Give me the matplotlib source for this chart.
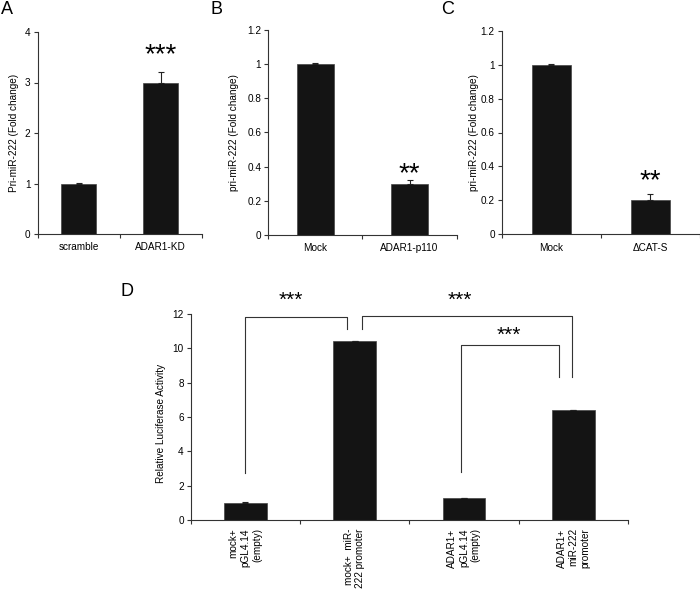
import numpy as np
import matplotlib
matplotlib.use("Agg")
import matplotlib.pyplot as plt

plt.rcParams['font.family'] = ['Liberation Sans', 'DejaVu Sans']

# ---- data ----
a_labels = ['scramble', 'ADAR1-KD']
a_values = [1.0, 3.0]
a_errors = [0.01, 0.2]

b_labels = ['Mock', 'ADAR1-p110']
b_values = [1.0, 0.30]
b_errors = [0.004, 0.02]

c_labels = ['Mock', '\u0394CAT-S']
c_values = [1.0, 0.20]
c_errors = [0.004, 0.04]

d_labels = ['mock+\npGL4.14\n(empty)', 'mock+  miR-\n222 promoter',
            'ADAR1+\npGL4.14\n(empty)', 'ADAR1+\nmiR-222\npromoter']
d_values = [0.98, 10.4, 1.26, 6.38]
d_errors = [0.04, 0.05, 0.04, 0.02]

BAR = '#141414'
FS = 7.2

fig = plt.figure(figsize=(7.0, 5.93), dpi=100)


def style_axes(ax, n):
    for s in ['top', 'right']:
        ax.spines[s].set_visible(False)
    for s in ['left', 'bottom']:
        ax.spines[s].set_linewidth(0.8)
        ax.spines[s].set_color('#333333')
    ax.set_xlim(-0.5, n - 0.5)
    # tick marks between categories, labels at category centres
    ax.set_xticks(np.arange(n + 1) - 0.5)
    ax.set_xticklabels([])
    ax.tick_params(axis='x', which='major', direction='out', length=3,
                   width=0.8, color='#333333')
    ax.tick_params(axis='y', direction='out', length=3, width=0.8,
                   color='#333333', labelsize=FS, pad=2)


def bar_panel(rect, labels, values, errors, width, ylim, yticks, yticklabels,
              ylabel, label_x, stars, star_y):
    ax = fig.add_axes(rect)
    x = np.arange(len(values))
    ax.bar(x, values, width=width, color=BAR, edgecolor='#444444', linewidth=0.5)
    ax.errorbar(x, values, yerr=[np.zeros(len(errors)), errors], fmt='none',
                ecolor='#222222', elinewidth=0.8, capsize=2.5, capthick=0.8)
    style_axes(ax, len(values))
    ax.set_xticks(x, minor=True)
    ax.set_xticklabels(labels, minor=True, fontsize=FS)
    ax.tick_params(axis='x', which='minor', length=0, pad=6)
    ax.set_ylim(*ylim)
    ax.set_yticks(yticks)
    ax.set_yticklabels(yticklabels)
    ax.set_ylabel(ylabel, fontsize=FS, va='center')
    ax.yaxis.set_label_coords(label_x, 0.5)
    ax.text(1, star_y, stars, ha='center', va='center', fontsize=20)
    return ax


bar_panel([37.5 / 700, 1 - 234 / 593, 164 / 700, 202 / 593],
          a_labels, a_values, a_errors, 0.42, (0, 4), [0, 1, 2, 3, 4],
          ['0', '1', '2', '3', '4'], 'Pri-miR-222 (Fold change)', -0.143,
          '***', 3.55)

ticks12 = [0, 0.2, 0.4, 0.6, 0.8, 1.0, 1.2]
tl12 = ['0', '0.2', '0.4', '0.6', '0.8', '1', '1.2']
bar_panel([268.3 / 700, 1 - 235 / 593, 188.4 / 700, 205 / 593],
          b_labels, b_values, b_errors, 0.4, (0, 1.2), ticks12, tl12,
          'pri-miR-222 (Fold change)', -0.182, '**', 0.355)

bar_panel([501.7 / 700, 1 - 234.3 / 593, 198 / 700, 203.6 / 593],
          c_labels, c_values, c_errors, 0.39, (0, 1.2), ticks12, tl12,
          'pri-miR-222 (Fold change)', -0.142, '**', 0.315)

# ---- panel D ----
axd = fig.add_axes([190.7 / 700, 1 - 520 / 593, 437.3 / 700, 206 / 593])
xd = np.arange(len(d_values))
axd.bar(xd, d_values, width=0.39, color=BAR, edgecolor='#444444', linewidth=0.5)
axd.errorbar(xd, d_values, yerr=[np.zeros(len(d_errors)), d_errors], fmt='none',
             ecolor='#222222', elinewidth=0.8, capsize=2.5, capthick=0.8)
style_axes(axd, len(d_values))
axd.set_xticks(xd, minor=True)
axd.set_xticklabels(d_labels, minor=True, fontsize=FS, rotation=90,
                    va='top', ha='center', multialignment='right')
axd.tick_params(axis='x', which='minor', length=0, pad=6)
axd.set_ylim(0, 12)
axd.set_yticks(np.arange(0, 13, 2))
axd.set_ylabel('Relative Luciferase Activity', fontsize=FS, va='center')
axd.yaxis.set_label_coords(-0.068, 0.47)

# significance brackets
line_kw = dict(color='#333333', linewidth=0.8, clip_on=False)
axd.plot([0, 0, 0.927, 0.927], [2.76, 11.84, 11.84, 11.1], **line_kw)
axd.plot([1.07, 1.07, 2.985, 2.985], [11.1, 11.88, 11.88, 8.31], **line_kw)
axd.plot([1.97, 1.97, 2.87, 2.87], [2.81, 10.19, 10.19, 8.35], **line_kw)
axd.text(0.42, 12.8, '***', ha='center', va='center', fontsize=15)
axd.text(1.96, 12.8, '***', ha='center', va='center', fontsize=15)
axd.text(2.41, 10.75, '***', ha='center', va='center', fontsize=15)

# panel letters
for letter, px, py in [('A', 7, 9), ('B', 217, 9), ('C', 448, 10), ('D', 127, 291)]:
    fig.text(px / 700, 1 - py / 593, letter, ha='center', va='center', fontsize=13)

fig.savefig('out.png', dpi=100)
